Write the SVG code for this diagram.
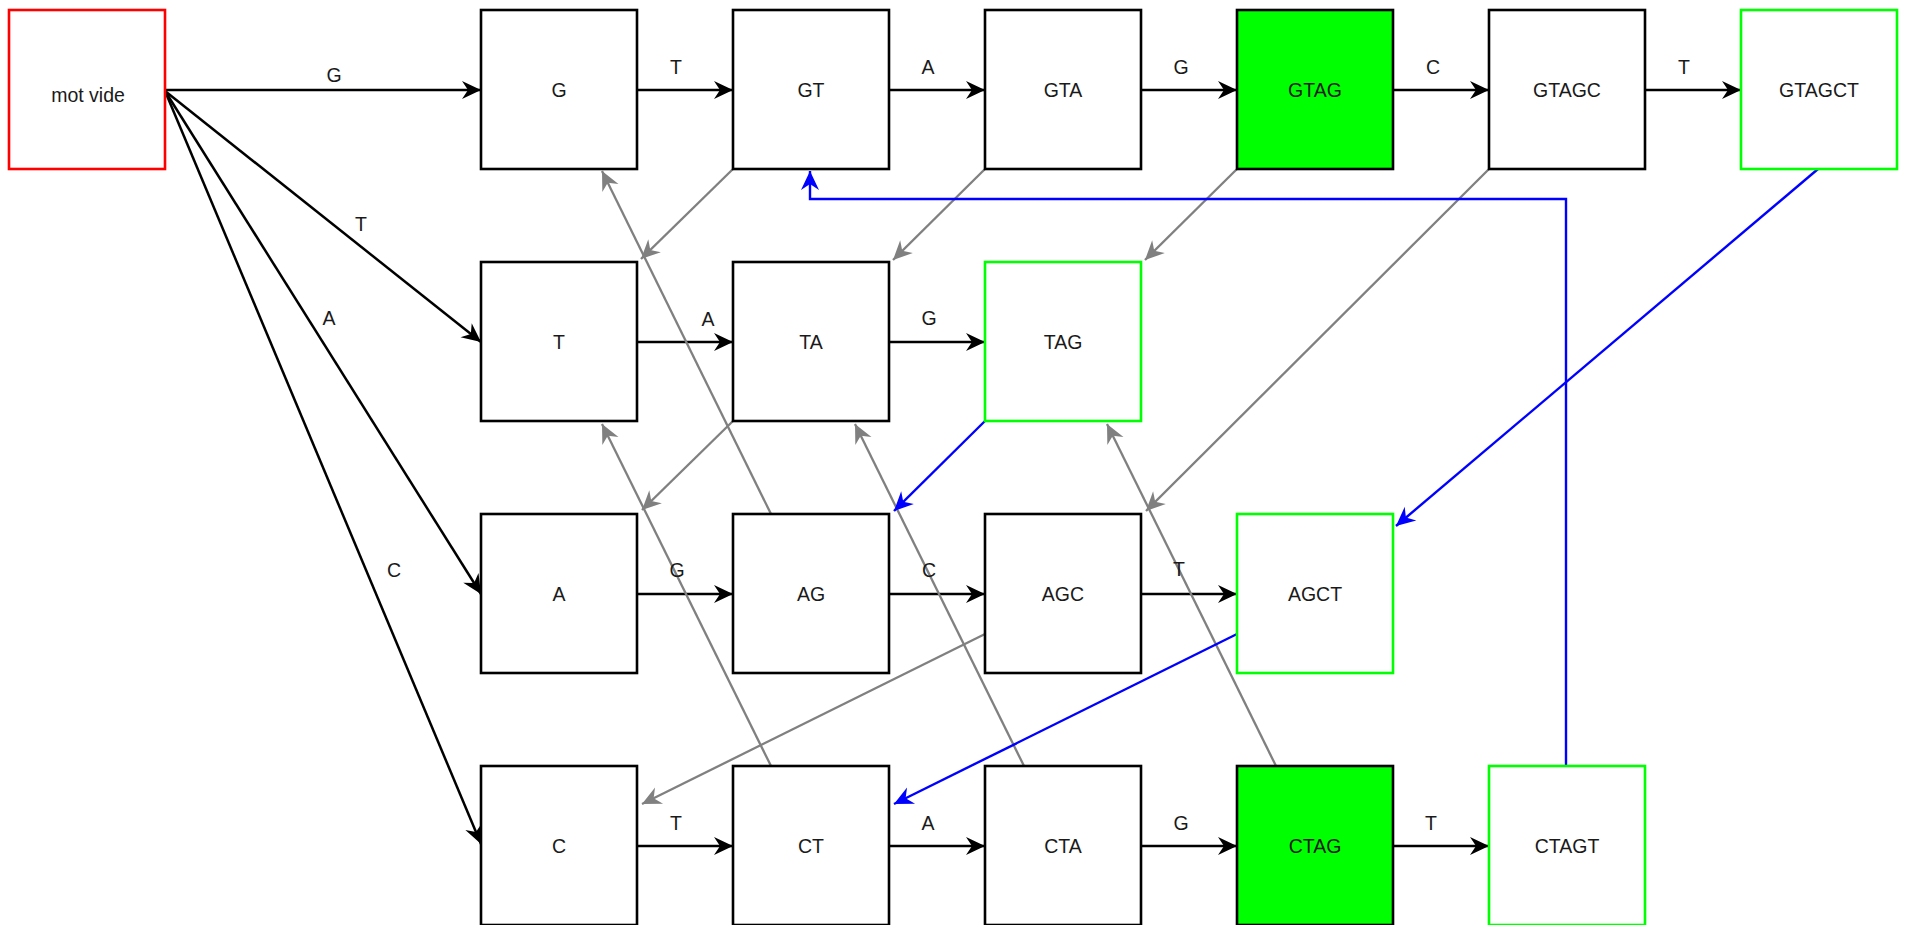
<svg xmlns="http://www.w3.org/2000/svg" width="1905" height="925" viewBox="0 0 1905 925">
<style>
.n{fill:#fff;stroke:#000;stroke-width:2.6}
.g{fill:#fff;stroke:#00ff00;stroke-width:2.6}
.f{fill:#00ff00;stroke:#000;stroke-width:2.6}
.r{fill:#fff;stroke:#ff0000;stroke-width:2.6}
text{font-family:"Liberation Sans",Arial,sans-serif;font-size:19.5px;fill:#1a1a1a;text-anchor:middle}
.eb{stroke:#000;stroke-width:2.5;fill:none;marker-end:url(#ab)}
.eg{stroke:#808080;stroke-width:2.3;fill:none;marker-end:url(#ag)}
.eu{stroke:#0000ff;stroke-width:2.4;fill:none;marker-end:url(#au)}
</style>
<defs>
<marker id="ab" markerUnits="userSpaceOnUse" markerWidth="20" markerHeight="18" refX="19" refY="9" orient="auto" overflow="visible"><path d="M0,0 L19,9 L0,18 L6,9 Z" fill="#000"/></marker>
<marker id="ag" markerUnits="userSpaceOnUse" markerWidth="20" markerHeight="18" refX="19" refY="9" orient="auto" overflow="visible"><path d="M0,0 L19,9 L0,18 L6,9 Z" fill="#808080"/></marker>
<marker id="au" markerUnits="userSpaceOnUse" markerWidth="20" markerHeight="18" refX="19" refY="9" orient="auto" overflow="visible"><path d="M0,0 L19,9 L0,18 L6,9 Z" fill="#0000ff"/></marker>
</defs>
<rect width="1905" height="925" fill="#fff"/>
<g id="edges">
<line class="eb" x1="165" y1="90" x2="481" y2="90"/>
<line class="eb" x1="637" y1="90" x2="733" y2="90"/>
<line class="eb" x1="889" y1="90" x2="985" y2="90"/>
<line class="eb" x1="1141" y1="90" x2="1237" y2="90"/>
<line class="eb" x1="1393" y1="90" x2="1489" y2="90"/>
<line class="eb" x1="1645" y1="90" x2="1741" y2="90"/>
<line class="eb" x1="637" y1="342" x2="733" y2="342"/>
<line class="eb" x1="889" y1="342" x2="985" y2="342"/>
<line class="eb" x1="637" y1="594" x2="733" y2="594"/>
<line class="eb" x1="889" y1="594" x2="985" y2="594"/>
<line class="eb" x1="1141" y1="594" x2="1237" y2="594"/>
<line class="eb" x1="637" y1="846" x2="733" y2="846"/>
<line class="eb" x1="889" y1="846" x2="985" y2="846"/>
<line class="eb" x1="1141" y1="846" x2="1237" y2="846"/>
<line class="eb" x1="1393" y1="846" x2="1489" y2="846"/>
<line class="eb" x1="165" y1="91" x2="481" y2="342"/>
<line class="eb" x1="165" y1="91" x2="481" y2="594"/>
<line class="eb" x1="165" y1="91" x2="481" y2="844"/>
<line class="eg" x1="733" y1="169" x2="641" y2="259"/>
<line class="eg" x1="985" y1="169" x2="893" y2="260"/>
<line class="eg" x1="1237" y1="169" x2="1145" y2="260"/>
<line class="eg" x1="1489" y1="169" x2="1146" y2="511"/>
<line class="eg" x1="733" y1="421" x2="642" y2="510"/>
<line class="eg" x1="771" y1="514" x2="602" y2="171"/>
<line class="eg" x1="771" y1="766" x2="602" y2="424"/>
<line class="eg" x1="1024" y1="766" x2="855" y2="424"/>
<line class="eg" x1="1276" y1="766" x2="1107" y2="424"/>
<line class="eg" x1="985" y1="634" x2="642" y2="804"/>
<line class="eu" x1="985" y1="421" x2="894" y2="511"/>
<line class="eu" x1="1818" y1="169" x2="1396" y2="526"/>
<line class="eu" x1="1237" y1="634" x2="894" y2="804"/>
<polyline class="eu" points="1566,766 1566,199 810,199 810,171"/>
<g id="edge-labels">
<text x="334" y="82">G</text>
<text x="676" y="74">T</text>
<text x="928" y="74">A</text>
<text x="1181" y="74">G</text>
<text x="1433" y="74">C</text>
<text x="1684" y="74">T</text>
<text x="708" y="326">A</text>
<text x="929" y="325">G</text>
<text x="677" y="577">G</text>
<text x="929" y="577">C</text>
<text x="1179" y="576">T</text>
<text x="676" y="830">T</text>
<text x="928" y="830">A</text>
<text x="1181" y="830">G</text>
<text x="1431" y="830">T</text>
<text x="361" y="231">T</text>
<text x="329" y="325">A</text>
<text x="394" y="577">C</text>
</g>
</g>
<g id="n-empty"><rect class="r" x="9" y="10" width="156" height="159"/><text x="88" y="102">mot vide</text></g>
<g id="n-G"><rect class="n" x="481" y="10" width="156" height="159"/><text x="559" y="97">G</text></g>
<g id="n-GT"><rect class="n" x="733" y="10" width="156" height="159"/><text x="811" y="97">GT</text></g>
<g id="n-GTA"><rect class="n" x="985" y="10" width="156" height="159"/><text x="1063" y="97">GTA</text></g>
<g id="n-GTAG"><rect class="f" x="1237" y="10" width="156" height="159"/><text x="1315" y="97">GTAG</text></g>
<g id="n-GTAGC"><rect class="n" x="1489" y="10" width="156" height="159"/><text x="1567" y="97">GTAGC</text></g>
<g id="n-GTAGCT"><rect class="g" x="1741" y="10" width="156" height="159"/><text x="1819" y="97">GTAGCT</text></g>
<g id="n-T"><rect class="n" x="481" y="262" width="156" height="159"/><text x="559" y="349">T</text></g>
<g id="n-TA"><rect class="n" x="733" y="262" width="156" height="159"/><text x="811" y="349">TA</text></g>
<g id="n-TAG"><rect class="g" x="985" y="262" width="156" height="159"/><text x="1063" y="349">TAG</text></g>
<g id="n-A"><rect class="n" x="481" y="514" width="156" height="159"/><text x="559" y="601">A</text></g>
<g id="n-AG"><rect class="n" x="733" y="514" width="156" height="159"/><text x="811" y="601">AG</text></g>
<g id="n-AGC"><rect class="n" x="985" y="514" width="156" height="159"/><text x="1063" y="601">AGC</text></g>
<g id="n-AGCT"><rect class="g" x="1237" y="514" width="156" height="159"/><text x="1315" y="601">AGCT</text></g>
<g id="n-C"><rect class="n" x="481" y="766" width="156" height="159"/><text x="559" y="853">C</text></g>
<g id="n-CT"><rect class="n" x="733" y="766" width="156" height="159"/><text x="811" y="853">CT</text></g>
<g id="n-CTA"><rect class="n" x="985" y="766" width="156" height="159"/><text x="1063" y="853">CTA</text></g>
<g id="n-CTAG"><rect class="f" x="1237" y="766" width="156" height="159"/><text x="1315" y="853">CTAG</text></g>
<g id="n-CTAGT"><rect class="g" x="1489" y="766" width="156" height="159"/><text x="1567" y="853">CTAGT</text></g>
</svg>
